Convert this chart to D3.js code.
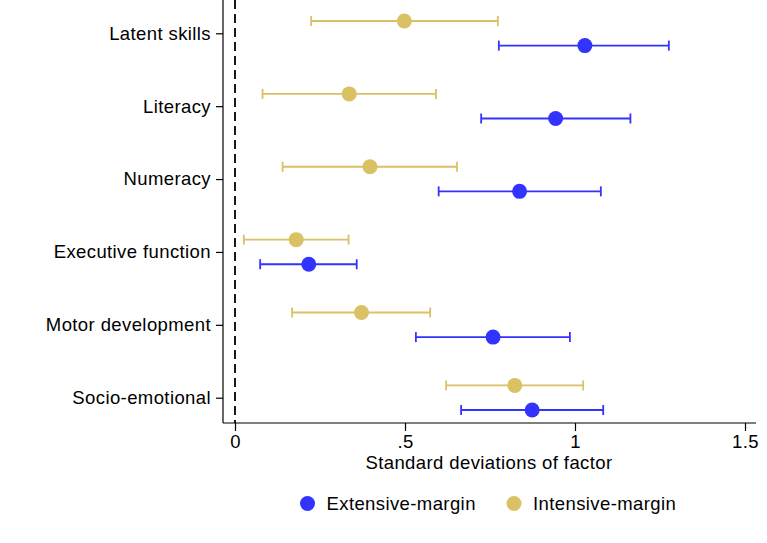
<!DOCTYPE html>
<html>
<head>
<meta charset="utf-8">
<script src="https://cdn.jsdelivr.net/npm/d3@7"></script>
<style>
  html, body { margin: 0; padding: 0; background: #fff; }
  svg { display: block; font-family: Arial, "Liberation Sans", Helvetica, sans-serif; }
  svg text { letter-spacing: 0.4px; }
</style>
</head>
<body>
<svg id="chart" width="767" height="543"></svg>
<script>
// Outcome factors, top to bottom
const factors = ["Latent skills", "Literacy", "Numeracy", "Executive function", "Motor development", "Socio-emotional"];

// Extensive-margin estimates with 95% CI bounds
const extEstimate = [1.029, 0.943, 0.837, 0.217, 0.759, 0.874];
const extLower    = [0.776, 0.724, 0.599, 0.074, 0.532, 0.665];
const extUpper    = [1.276, 1.163, 1.076, 0.358, 0.985, 1.083];

// Intensive-margin estimates with 95% CI bounds
const intEstimate = [0.498, 0.336, 0.397, 0.180, 0.372, 0.823];
const intLower    = [0.224, 0.081, 0.140, 0.026, 0.168, 0.621];
const intUpper    = [0.773, 0.591, 0.653, 0.334, 0.574, 1.024];

const xTicks = [0, 0.5, 1, 1.5];
const xTickLabels = ["0", ".5", "1", "1.5"];
const seriesNames = ["Extensive-margin", "Intensive-margin"];
const colors = { ext: "#3333ff", int: "#d9c164" };

const svg = d3.select("#chart");
const fontSize = 18.5;

const x = d3.scaleLinear().domain([0, 1.5]).range([235, 745]);
const y = d3.scalePoint().domain(factors).range([33.3, 397.7]);
const offset = 12.3;

const plotLeft = 223, plotTop = 0, plotBottom = 423, plotRight = 756;

// Reference line at zero
svg.append("line")
  .attr("x1", x(0)).attr("x2", x(0))
  .attr("y1", plotTop).attr("y2", plotBottom)
  .attr("stroke", "#000").attr("stroke-width", 1.8)
  .attr("stroke-dasharray", "9,5");

// Y axis
svg.append("line")
  .attr("x1", plotLeft).attr("x2", plotLeft)
  .attr("y1", plotTop).attr("y2", plotBottom)
  .attr("stroke", "#000").attr("stroke-width", 1.2);
const yAxis = svg.append("g").attr("transform", `translate(${plotLeft},0)`)
  .call(d3.axisLeft(y).tickSize(7).tickPadding(5));
yAxis.select(".domain").remove();
yAxis.selectAll("line").attr("stroke", "#000").attr("stroke-width", 1.2);
yAxis.selectAll("text").attr("font-size", fontSize).attr("fill", "#000")
  .attr("font-family", "Arial, 'Liberation Sans', sans-serif");

// X axis
svg.append("line")
  .attr("x1", plotLeft).attr("x2", plotRight)
  .attr("y1", plotBottom).attr("y2", plotBottom)
  .attr("stroke", "#000").attr("stroke-width", 1.2);
const xAxis = svg.append("g").attr("transform", `translate(0,${plotBottom})`)
  .call(d3.axisBottom(x).tickValues(xTicks).tickFormat((d, i) => xTickLabels[i]).tickSize(8).tickPadding(4));
xAxis.select(".domain").remove();
xAxis.selectAll("line").attr("stroke", "#000").attr("stroke-width", 1.2);
xAxis.selectAll("text").attr("font-size", fontSize).attr("fill", "#000")
  .attr("font-family", "Arial, 'Liberation Sans', sans-serif");

svg.append("text")
  .attr("x", 489).attr("y", 469)
  .attr("text-anchor", "middle")
  .attr("font-size", fontSize)
  .text("Standard deviations of factor");

// Point estimates with capped confidence intervals
function drawSeries(est, lo, hi, color, dy) {
  const g = svg.append("g");
  const rows = factors.map((f, i) => ({ f, est: est[i], lo: lo[i], hi: hi[i] }));
  const cy = d => y(d.f) + dy;
  g.selectAll(".ci").data(rows).join("line")
    .attr("x1", d => x(d.lo)).attr("x2", d => x(d.hi))
    .attr("y1", cy).attr("y2", cy)
    .attr("stroke", color).attr("stroke-width", 1.8);
  g.selectAll(".capL").data(rows).join("line")
    .attr("x1", d => x(d.lo)).attr("x2", d => x(d.lo))
    .attr("y1", d => cy(d) - 5).attr("y2", d => cy(d) + 5)
    .attr("stroke", color).attr("stroke-width", 1.8);
  g.selectAll(".capR").data(rows).join("line")
    .attr("x1", d => x(d.hi)).attr("x2", d => x(d.hi))
    .attr("y1", d => cy(d) - 5).attr("y2", d => cy(d) + 5)
    .attr("stroke", color).attr("stroke-width", 1.8);
  g.selectAll("circle").data(rows).join("circle")
    .attr("cx", d => x(d.est)).attr("cy", cy).attr("r", 7.5)
    .attr("fill", color);
}
drawSeries(intEstimate, intLower, intUpper, colors.int, -offset);
drawSeries(extEstimate, extLower, extUpper, colors.ext, offset);

// Legend
const legend = [
  { name: seriesNames[0], color: colors.ext, cx: 307.5 },
  { name: seriesNames[1], color: colors.int, cx: 514 }
];
const lg = svg.append("g");
lg.selectAll("circle").data(legend).join("circle")
  .attr("cx", d => d.cx).attr("cy", 503.5).attr("r", 7.5).attr("fill", d => d.color);
lg.selectAll("text").data(legend).join("text")
  .attr("x", d => d.cx + 19).attr("y", 503.5).attr("dy", "0.37em")
  .attr("font-size", fontSize).text(d => d.name);
</script>
</body>
</html>
